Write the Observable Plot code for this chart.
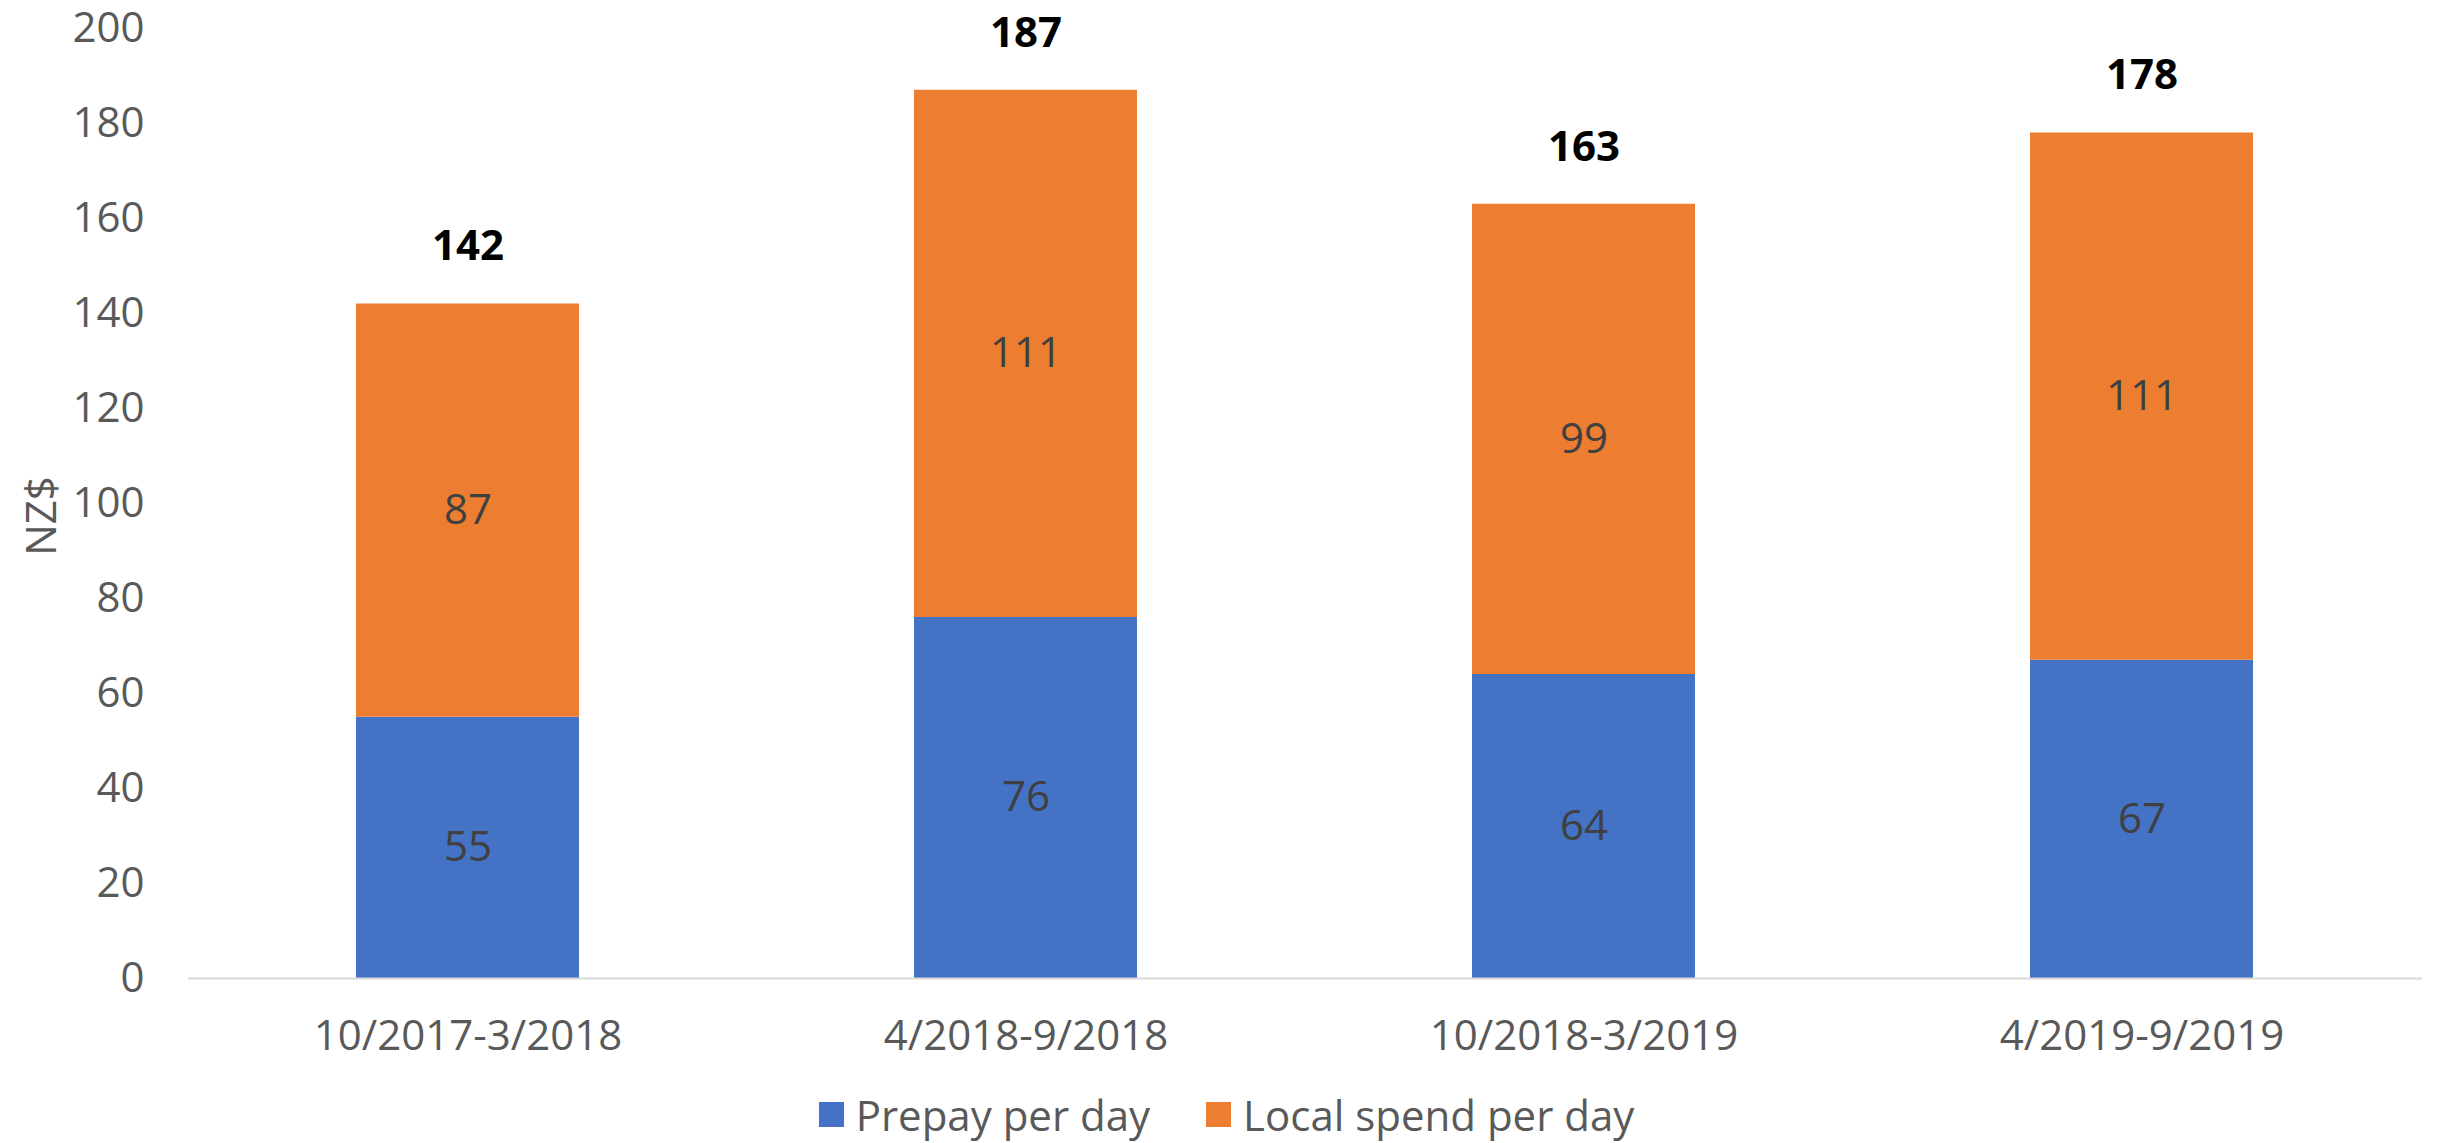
<!DOCTYPE html>
<html>
<head>
<meta charset="utf-8">
<script src="https://cdn.jsdelivr.net/npm/d3@7"></script>
<script src="https://cdn.jsdelivr.net/npm/@observablehq/plot@0.6"></script>
<style>
  html, body { margin: 0; padding: 0; background: #fff; }
  body { width: 2453px; height: 1143px; overflow: hidden; position: relative; font-family: "Open Sans", sans-serif; }
  #legend { display: flex; justify-content: center; align-items: center; height: 58px; gap: 56px; font-size: 42px; color: #595959; }
  .item { display: flex; align-items: center; gap: 12px; }
  .sw { width: 25px; height: 25px; display: inline-block; }
  #ytitle { position: absolute; left: 39px; top: 516px; transform: translate(-50%, -50%) rotate(-90deg); font-size: 42px; color: #595959; white-space: nowrap; }
</style>
</head>
<body>
<div id="chart"></div>
<div id="legend"></div>
<div id="ytitle"></div>
<script>
const periods = ["10/2017-3/2018", "4/2018-9/2018", "10/2018-3/2019", "4/2019-9/2019"];
const prepay = [55, 76, 64, 67];
const local = [87, 111, 99, 111];
const totals = [142, 187, 163, 178];
const seriesNames = ["Prepay per day", "Local spend per day"];
const seriesColors = ["#4472C4", "#ED7D31"];
const yTicks = [0, 20, 40, 60, 80, 100, 120, 140, 160, 180, 200];
const yTitle = "NZ$";

const rows = [];
periods.forEach((p, i) => rows.push({period: p, series: seriesNames[0], value: prepay[i]}));
periods.forEach((p, i) => rows.push({period: p, series: seriesNames[1], value: local[i]}));
const totalRows = periods.map((p, i) => ({period: p, total: totals[i]}));

const fontFamily = '"Open Sans", sans-serif';
const fs = 42;

const chart = Plot.plot({
  width: 2453,
  height: 1085,
  marginTop: 28,
  marginBottom: 107,
  marginLeft: 188,
  marginRight: 31,
  style: {fontFamily, fontSize: fs + "px", color: "#595959", background: "#fff", overflow: "visible"},
  x: {domain: periods, paddingInner: 0.6, paddingOuter: 0.3, label: null},
  y: {domain: [0, 200], ticks: yTicks, label: null},
  color: {domain: seriesNames, range: seriesColors},
  marks: [
    Plot.axisY({ticks: yTicks, tickSize: 0, tickPadding: 44, fontSize: fs, label: null, fill: "#595959"}),
    Plot.axisX({tickSize: 0, tickPadding: 42, fontSize: fs, label: null, fill: "#595959"}),
    Plot.barY(rows, {x: "period", y: "value", fill: "series", order: seriesNames}),
    Plot.ruleY([0], {stroke: "#D9D9D9", strokeWidth: 2}),
    Plot.text(rows, Plot.stackY({x: "period", y: "value", z: "series", order: seriesNames, text: d => String(d.value), fill: "#404040", fontSize: fs})),
    Plot.text(totalRows, {x: "period", y: "total", text: d => String(d.total), dy: -57, fill: "#000", fontWeight: "bold", fontSize: fs})
  ]
});
document.getElementById("chart").appendChild(chart);
document.getElementById("ytitle").textContent = yTitle;

const legend = document.getElementById("legend");
seriesNames.forEach((n, i) => {
  const item = document.createElement("div");
  item.className = "item";
  const sw = document.createElement("span");
  sw.className = "sw";
  sw.style.background = seriesColors[i];
  const t = document.createElement("span");
  t.textContent = n;
  item.appendChild(sw);
  item.appendChild(t);
  legend.appendChild(item);
});
</script>
</body>
</html>
